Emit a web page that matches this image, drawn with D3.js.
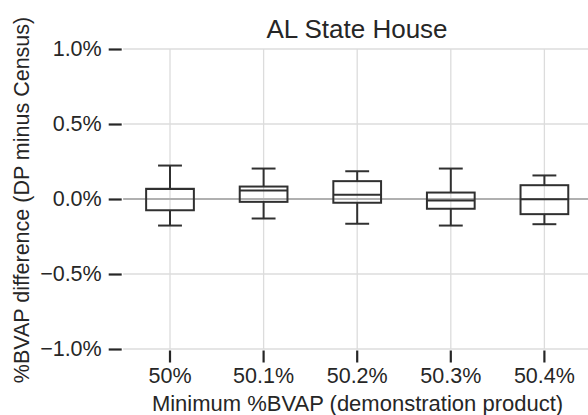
<!DOCTYPE html>
<html><head><meta charset="utf-8">
<script src="https://cdn.jsdelivr.net/npm/d3@7/dist/d3.min.js"></script>
<style>body{margin:0;background:#fff}svg{display:block;font-family:"Liberation Sans",Arial,sans-serif}</style>
</head><body><svg id="c" width="588" height="415"></svg>
<script>
const categories = ["50%", "50.1%", "50.2%", "50.3%", "50.4%"];
const whiskerLow = [-0.177, -0.130, -0.165, -0.177, -0.168];
const q1 = [-0.075, -0.019, -0.025, -0.065, -0.101];
const median = [0.066, 0.057, 0.028, -0.010, -0.001];
const q3 = [0.068, 0.083, 0.119, 0.043, 0.092];
const whiskerHigh = [0.223, 0.203, 0.185, 0.203, 0.157];
const yTicks = [-1.0, -0.5, 0.0, 0.5, 1.0];
const title = "AL State House";
const xLabel = "Minimum %BVAP (demonstration product)";
const yLabel = "%BVAP difference (DP minus Census)";

const svg = d3.select("#c");
const x = d3.scaleBand().domain(categories).range([123.2, 591.2]).padding(0);
const y = d3.scaleLinear().domain([-1, 1]).range([349, 49]);
const textCol = "#262626", lineCol = "#303030";
const left = 123.2, right = 591.2;

// grid
svg.append("g").selectAll("line").data(yTicks).join("line")
  .attr("x1", left).attr("x2", right).attr("y1", d => y(d)).attr("y2", d => y(d))
  .attr("stroke", "#dcdcdc").attr("stroke-width", 1.3);
svg.append("g").selectAll("line").data(categories).join("line")
  .attr("x1", d => x(d) + x.bandwidth()/2).attr("x2", d => x(d) + x.bandwidth()/2)
  .attr("y1", y(1)).attr("y2", y(-1))
  .attr("stroke", "#dcdcdc").attr("stroke-width", 1.3);

// zero line
svg.append("line").attr("x1", left).attr("x2", right).attr("y1", y(0)).attr("y2", y(0))
  .attr("stroke", "#b0b0b0").attr("stroke-width", 2.2);

// axes
const yAxis = d3.axisLeft(y).tickValues(yTicks).tickSize(13).tickPadding(7)
  .tickFormat(d => d3.format(".1f")(d).replace("-", "\u2212") + "%");
const ga = svg.append("g").attr("transform", `translate(${left - 1.5},0)`).call(yAxis);
ga.select(".domain").remove();
ga.selectAll(".tick line").attr("stroke", textCol).attr("stroke-width", 2.2);
ga.selectAll(".tick text").attr("fill", textCol).attr("font-size", 21.5);

const xAxis = d3.axisBottom(x).tickSize(12).tickPadding(5);
const gx = svg.append("g").attr("transform", `translate(0,${y(-1) + 1.5})`).call(xAxis);
gx.select(".domain").remove();
gx.selectAll(".tick line").attr("stroke", textCol).attr("stroke-width", 2.2);
gx.selectAll(".tick text").attr("fill", textCol).attr("font-size", 21.5);

// boxes
const bw = x.bandwidth() * 0.51;
const data = categories.map((c, i) => ({c, lo: whiskerLow[i], q1: q1[i], med: median[i], q3: q3[i], hi: whiskerHigh[i]}));
const g = svg.append("g").attr("stroke", lineCol).attr("stroke-width", 2).attr("fill", "none");
const b = g.selectAll("g").data(data).join("g")
  .attr("transform", d => `translate(${x(d.c) + x.bandwidth()/2},0)`);
b.append("line").attr("x1", 0).attr("x2", 0).attr("y1", d => y(d.hi)).attr("y2", d => y(d.q3));
b.append("line").attr("x1", 0).attr("x2", 0).attr("y1", d => y(d.q1)).attr("y2", d => y(d.lo));
b.append("line").attr("x1", -bw/4).attr("x2", bw/4).attr("y1", d => y(d.hi)).attr("y2", d => y(d.hi));
b.append("line").attr("x1", -bw/4).attr("x2", bw/4).attr("y1", d => y(d.lo)).attr("y2", d => y(d.lo));
b.append("rect").attr("x", -bw/2).attr("width", bw)
  .attr("y", d => y(d.q3)).attr("height", d => y(d.q1) - y(d.q3)).attr("fill", "none");
b.append("line").attr("x1", -bw/2).attr("x2", bw/2).attr("y1", d => y(d.med)).attr("y2", d => y(d.med));

// titles
svg.append("text").attr("x", 357).attr("y", 38).attr("text-anchor", "middle")
  .attr("fill", textCol).attr("font-size", 26).text(title);
svg.append("text").attr("x", 357.5).attr("y", 411).attr("text-anchor", "middle")
  .attr("fill", textCol).attr("font-size", 22).text(xLabel);
svg.append("text").attr("transform", "translate(29,200) rotate(-90)").attr("text-anchor", "middle")
  .attr("fill", textCol).attr("font-size", 21.5).text(yLabel);
</script></body></html>
